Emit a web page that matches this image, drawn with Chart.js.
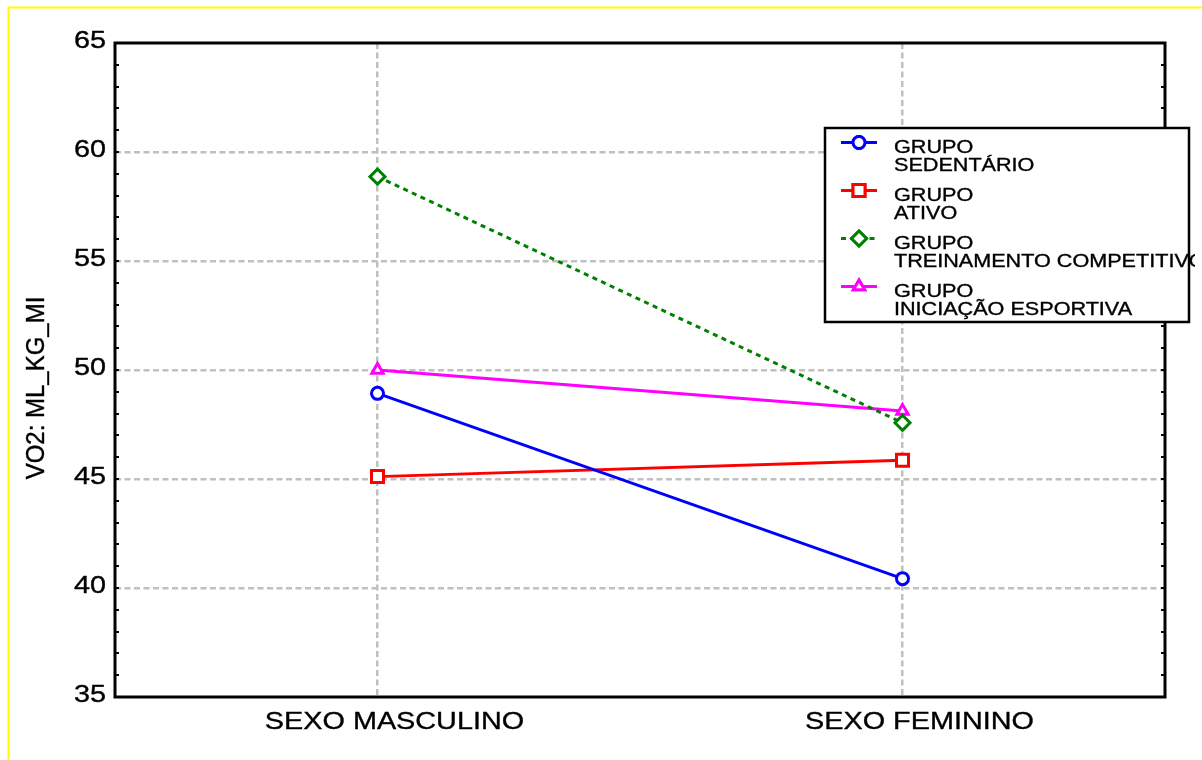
<!DOCTYPE html>
<html>
<head>
<meta charset="utf-8">
<script src="https://cdn.jsdelivr.net/npm/chart.js@4"></script>
<style>
  html, body { margin: 0; padding: 0; background: #fff; overflow: hidden; }
  canvas { display: block; }
</style>
</head>
<body>
<canvas id="c" width="1202" height="760"></canvas>
<script>
// Categories, series and tick labels
const categories = ['SEXO MASCULINO', 'SEXO FEMININO'];
const groupSedentario = ['GRUPO', 'SEDENTÁRIO'];
const groupAtivo = ['GRUPO', 'ATIVO'];
const groupTreinamento = ['GRUPO', 'TREINAMENTO COMPETITIVO'];
const groupIniciacao = ['GRUPO', 'INICIAÇÃO ESPORTIVA'];
const sedentario = [48.93, 40.43];
const ativo = [45.11, 45.86];
const treinamento = [58.87, 47.58];
const iniciacao = [50.0, 48.12];
const yTickValues = [35, 40, 45, 50, 55, 60, 65];
const yTitle = 'VO2: ML_KG_MI';

const FONT = '"Liberation Sans", Arial, sans-serif';
const STRETCH = 1.2;

function stretchedText(ctx, text, x, y, size, align, baseline) {
  ctx.save();
  ctx.translate(x, y);
  ctx.scale(STRETCH, 1);
  ctx.font = size + 'px ' + FONT;
  ctx.fillStyle = '#000';
  ctx.strokeStyle = '#000';
  ctx.lineWidth = 0.35;
  ctx.textAlign = align;
  ctx.textBaseline = baseline;
  ctx.fillText(text, 0, 0);
  ctx.strokeText(text, 0, 0);
  ctx.restore();
}

// Outer yellow frame
const pageFrame = {
  id: 'pageFrame',
  beforeDraw(chart) {
    const ctx = chart.ctx;
    ctx.save();
    ctx.fillStyle = '#fff';
    ctx.fillRect(0, 0, chart.width, chart.height);
    ctx.strokeStyle = '#ffff00';
    ctx.lineWidth = 2;
    ctx.strokeRect(8.5, 7.5, 1300, 800);
    ctx.restore();
  }
};

// Plot box, inward ticks and axis texts
const axisDecor = {
  id: 'axisDecor',
  beforeDatasetsDraw(chart) {
    const ctx = chart.ctx;
    const a = chart.chartArea;
    const y = chart.scales.y;
    const x = chart.scales.x;
    ctx.save();
    ctx.strokeStyle = '#000';
    ctx.lineWidth = 3;
    ctx.strokeRect(a.left, a.top, a.right - a.left, a.bottom - a.top);
    ctx.lineWidth = 2;
    ctx.beginPath();
    for (let v = y.min; v <= y.max; v += 1) {
      const py = Math.round(y.getPixelForValue(v));
      ctx.moveTo(a.left, py); ctx.lineTo(a.left + 4, py);
      ctx.moveTo(a.right - 4, py); ctx.lineTo(a.right, py);
    }
    ctx.stroke();
    ctx.restore();

    yTickValues.forEach(v => {
      stretchedText(ctx, String(v), 106, y.getPixelForValue(v) - 1.5, 24, 'right', 'middle');
    });
    categories.forEach((c, i) => {
      stretchedText(ctx, c, x.getPixelForValue(i) + 17, 729, 24, 'center', 'alphabetic');
    });

    ctx.save();
    ctx.translate(37, 388);
    ctx.scale(1.05, 1);
    ctx.rotate(-Math.PI / 2);
    ctx.font = '24px ' + FONT;
    ctx.fillStyle = '#000';
    ctx.strokeStyle = '#000';
    ctx.lineWidth = 0.35;
    ctx.textAlign = 'center';
    ctx.textBaseline = 'middle';
    ctx.fillText(yTitle, 0, 0);
    ctx.strokeText(yTitle, 0, 0);
    ctx.restore();
  }
};

// Boxed legend with two-line group names
const boxLegend = {
  id: 'boxLegend',
  afterDatasetsDraw(chart) {
    const ctx = chart.ctx;
    const bx = 825, by = 128, bw = 364, bh = 194;
    ctx.save();
    ctx.fillStyle = '#fff';
    ctx.fillRect(bx, by, bw, bh);
    ctx.strokeStyle = '#000';
    ctx.lineWidth = 2.5;
    ctx.strokeRect(bx, by, bw, bh);
    ctx.restore();

    chart.data.datasets.forEach((ds, i) => {
      const base = 153 + i * 48;
      const my = base - 10.5;
      ctx.save();
      ctx.strokeStyle = ds.borderColor;
      ctx.lineWidth = ds.borderWidth;
      ctx.setLineDash(ds.borderDash || []);
      ctx.beginPath();
      ctx.moveTo(841, my); ctx.lineTo(877, my);
      ctx.stroke();
      ctx.setLineDash([]);
      Chart.helpers.drawPoint(ctx, {
        pointStyle: ds.pointStyle,
        radius: ds.pointRadius,
        borderWidth: ds.pointBorderWidth,
        rotation: 0
      }, 859, my);
      ctx.fillStyle = '#fff';
      ctx.strokeStyle = ds.borderColor;
      ctx.lineWidth = ds.pointBorderWidth;
      ctx.fill();
      ctx.stroke();
      ctx.restore();

      ctx.save();
      ctx.beginPath();
      ctx.rect(bx, by, 370, bh);
      ctx.clip();
      ds.label.forEach((line, k) => {
        stretchedText(ctx, line, 894, base + k * 18.4, 18, 'left', 'alphabetic');
      });
      ctx.restore();
    });
  }
};

const gridColor = c => (c.tick && (c.tick.value === 35 || c.tick.value === 65)) ? 'rgba(0,0,0,0)' : '#c0c0c0';

new Chart(document.getElementById('c'), {
  type: 'line',
  data: {
    labels: categories,
    datasets: [
      { label: groupSedentario, data: sedentario, borderColor: '#0000ff', borderWidth: 2.8,
        pointStyle: 'circle', pointRadius: 6, pointBorderWidth: 3,
        pointBackgroundColor: '#fff', pointBorderColor: '#0000ff' },
      { label: groupAtivo, data: ativo, borderColor: '#ff0000', borderWidth: 2.8,
        pointStyle: 'rect', pointRadius: 8.5, pointBorderWidth: 3,
        pointBackgroundColor: '#fff', pointBorderColor: '#ff0000' },
      { label: groupTreinamento, data: treinamento, borderColor: '#008000', borderWidth: 3,
        borderDash: [5, 4.5],
        pointStyle: 'rectRot', pointRadius: 7.5, pointBorderWidth: 3,
        pointBackgroundColor: '#fff', pointBorderColor: '#008000' },
      { label: groupIniciacao, data: iniciacao, borderColor: '#ff00ff', borderWidth: 2.8,
        pointStyle: 'triangle', pointRadius: 6.5, pointBorderWidth: 3,
        pointBackgroundColor: '#fff', pointBorderColor: '#ff00ff' }
    ]
  },
  options: {
    responsive: false,
    animation: false,
    devicePixelRatio: 1,
    layout: { padding: { top: 43, right: 37, bottom: 0, left: 0 } },
    plugins: { legend: { display: false }, tooltip: { enabled: false } },
    elements: { line: { tension: 0, fill: false } },
    scales: {
      x: {
        type: 'category',
        offset: true,
        ticks: { display: false },
        grid: { color: '#c0c0c0', lineWidth: 2.5, drawTicks: false, offset: false },
        border: { display: false, dash: [6, 3.5] },
        afterFit: s => { s.height = 63; }
      },
      y: {
        min: 35, max: 65,
        ticks: { display: false, stepSize: 5 },
        grid: { color: gridColor, lineWidth: 2.5, drawTicks: false },
        border: { display: false, dash: [6, 3.5] },
        afterFit: s => { s.width = 115; }
      }
    }
  },
  plugins: [pageFrame, axisDecor, boxLegend]
});
</script>
</body>
</html>
